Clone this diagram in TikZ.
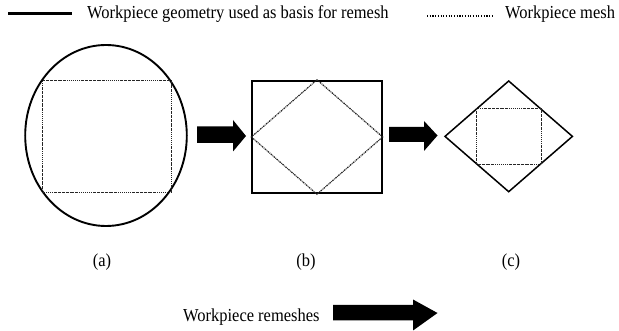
\documentclass[tikz,border=0pt]{standalone}
\usepackage{fontspec}
\setmainfont{Liberation Serif}[FakeStretch=0.9]
\usetikzlibrary{shapes.geometric}
\begin{document}
\begin{tikzpicture}[x=1pt,y=1pt,
  lbl/.style={inner sep=0pt,font=\fontsize{18.3}{20}\selectfont},
  geom/.style={draw=black,line width=1.9pt},
  meshline/.style={draw=black!85,line width=1.2pt,dash pattern=on 1.6pt off 0.8pt on 0.7pt off 0.8pt},
  blockarrow/.style={fill=black}]
\useasboundingbox (0,0) rectangle (619,-331);
% legend
\coordinate (l1a) at (8,-13.3);
\coordinate (l1b) at (72,-13.3);
\draw[line width=2.6pt] (l1a) -- (l1b);
\node[lbl,anchor=base west] (leg1) at (87,-19) {Workpiece geometry used as basis for remesh};
\coordinate (l2a) at (427,-16);
\coordinate (l2b) at (492,-16);
\draw[line width=1.3pt,dash pattern=on 1.1pt off 1.6pt] (l2a) -- (l2b);
\node[lbl,anchor=base west] (leg2) at (505,-18.5) {Workpiece mesh};
% (a) ellipse
\node[geom,ellipse,minimum width=161.6pt,minimum height=181pt,inner sep=0pt] (ella) at (106,-135.5) {};
\draw[meshline] (42.7,-80.7) rectangle (171.7,-192.7);
% arrow 1
\fill[blockarrow] (197,-126.5) -- (233,-126.5) -- (233,-120) -- (246,-136) -- (233,-151.5) -- (233,-143) -- (197,-143) -- cycle;
% (b) rectangle
\node[geom,rectangle,minimum width=129.4pt,minimum height=112.6pt,inner sep=0pt] (rectb) at (317,-137) {};
\draw[meshline] (rectb.north) -- (rectb.east) -- (rectb.south) -- (rectb.west) -- cycle;
% arrow 2
\fill[blockarrow] (389,-127) -- (424,-127) -- (424,-121) -- (437.5,-135.5) -- (424,-151) -- (424,-142) -- (389,-142) -- cycle;
% (c) diamond
\coordinate (dc) at (508.7,-136.4);
\coordinate (dt) at (508.7,-81);
\coordinate (dr) at (572.4,-136.4);
\coordinate (db) at (508.7,-191.7);
\coordinate (dl) at (445,-136.4);
\draw[draw=black,line width=1.5pt,line join=miter] (dt) -- (dr) -- (db) -- (dl) -- cycle;
\draw[meshline] (476.3,-108.6) rectangle (541.1,-164.2);
% labels
\node[lbl,anchor=base] (la) at (102,-266.5) {(a)};
\node[lbl,anchor=base] (lb) at (306,-266.5) {(b)};
\node[lbl,anchor=base] (lc) at (511,-266.5) {(c)};
% bottom
\node[lbl,anchor=base west] (rem) at (183,-321.7) {Workpiece remeshes};
\fill[blockarrow] (333,-305) -- (413,-305) -- (413,-299.5) -- (437.5,-313) -- (413,-330.5) -- (413,-320.5) -- (333,-320.5) -- cycle;
\end{tikzpicture}
\end{document}
